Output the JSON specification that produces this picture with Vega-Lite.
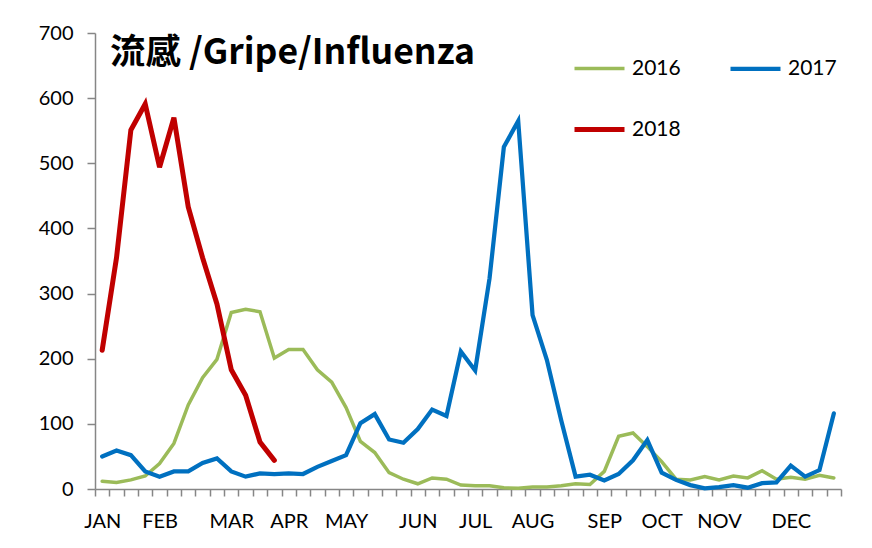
{
  "$schema": "https://vega.github.io/schema/vega-lite/v6.json",
  "width": 746,
  "height": 456,
  "autosize": {"type": "none"},
  "padding": {"left": 95, "top": 33, "right": 31, "bottom": 59},
  "background": "white",
  "config": {"view": {"stroke": null}, "font": "Lato"},
  "title": {
    "text": "流感 /Gripe/Influenza",
    "anchor": "start",
    "frame": "group",
    "orient": "top",
    "offset": 0,
    "dx": 15,
    "dy": 76,
    "baseline": "alphabetic",
    "font": "Noto Sans CJK TC",
    "fontSize": 35.5,
    "fontWeight": "bold",
    "color": "black"
  },
  "data": {"values": [
    {"week":1,"year":"2016","value":12},{"week":2,"year":"2016","value":10},{"week":3,"year":"2016","value":14},{"week":4,"year":"2016","value":20},{"week":5,"year":"2016","value":39},{"week":6,"year":"2016","value":70},{"week":7,"year":"2016","value":129},{"week":8,"year":"2016","value":171},{"week":9,"year":"2016","value":199},{"week":10,"year":"2016","value":271},
    {"week":11,"year":"2016","value":276},{"week":12,"year":"2016","value":272},{"week":13,"year":"2016","value":201},{"week":14,"year":"2016","value":214},{"week":15,"year":"2016","value":214},{"week":16,"year":"2016","value":183},{"week":17,"year":"2016","value":164},{"week":18,"year":"2016","value":125},{"week":19,"year":"2016","value":73},{"week":20,"year":"2016","value":56},
    {"week":21,"year":"2016","value":25},{"week":22,"year":"2016","value":15},{"week":23,"year":"2016","value":8},{"week":24,"year":"2016","value":17},{"week":25,"year":"2016","value":15},{"week":26,"year":"2016","value":6},{"week":27,"year":"2016","value":5},{"week":28,"year":"2016","value":5},{"week":29,"year":"2016","value":2},{"week":30,"year":"2016","value":1},
    {"week":31,"year":"2016","value":3},{"week":32,"year":"2016","value":3},{"week":33,"year":"2016","value":5},{"week":34,"year":"2016","value":8},{"week":35,"year":"2016","value":7},{"week":36,"year":"2016","value":27},{"week":37,"year":"2016","value":81},{"week":38,"year":"2016","value":86},{"week":39,"year":"2016","value":65},{"week":40,"year":"2016","value":42},
    {"week":41,"year":"2016","value":15},{"week":42,"year":"2016","value":14},{"week":43,"year":"2016","value":19},{"week":44,"year":"2016","value":14},{"week":45,"year":"2016","value":20},{"week":46,"year":"2016","value":17},{"week":47,"year":"2016","value":28},{"week":48,"year":"2016","value":15},{"week":49,"year":"2016","value":18},{"week":50,"year":"2016","value":15},
    {"week":51,"year":"2016","value":21},{"week":52,"year":"2016","value":17},
    {"week":1,"year":"2017","value":50},{"week":2,"year":"2017","value":59},{"week":3,"year":"2017","value":52},{"week":4,"year":"2017","value":27},{"week":5,"year":"2017","value":19},{"week":6,"year":"2017","value":27},{"week":7,"year":"2017","value":27},{"week":8,"year":"2017","value":40},{"week":9,"year":"2017","value":47},{"week":10,"year":"2017","value":27},
    {"week":11,"year":"2017","value":19},{"week":12,"year":"2017","value":24},{"week":13,"year":"2017","value":23},{"week":14,"year":"2017","value":24},{"week":15,"year":"2017","value":23},{"week":16,"year":"2017","value":34},{"week":17,"year":"2017","value":43},{"week":18,"year":"2017","value":52},{"week":19,"year":"2017","value":101},{"week":20,"year":"2017","value":115},
    {"week":21,"year":"2017","value":76},{"week":22,"year":"2017","value":71},{"week":23,"year":"2017","value":92},{"week":24,"year":"2017","value":122},{"week":25,"year":"2017","value":112},{"week":26,"year":"2017","value":211},{"week":27,"year":"2017","value":182},{"week":28,"year":"2017","value":323},{"week":29,"year":"2017","value":525},{"week":30,"year":"2017","value":565},
    {"week":31,"year":"2017","value":267},{"week":32,"year":"2017","value":198},{"week":33,"year":"2017","value":105},{"week":34,"year":"2017","value":19},{"week":35,"year":"2017","value":22},{"week":36,"year":"2017","value":13},{"week":37,"year":"2017","value":23},{"week":38,"year":"2017","value":44},{"week":39,"year":"2017","value":75},{"week":40,"year":"2017","value":25},
    {"week":41,"year":"2017","value":14},{"week":42,"year":"2017","value":6},{"week":43,"year":"2017","value":1},{"week":44,"year":"2017","value":3},{"week":45,"year":"2017","value":6},{"week":46,"year":"2017","value":2},{"week":47,"year":"2017","value":9},{"week":48,"year":"2017","value":10},{"week":49,"year":"2017","value":36},{"week":50,"year":"2017","value":19},
    {"week":51,"year":"2017","value":29},{"week":52,"year":"2017","value":116},
    {"week":1,"year":"2018","value":213},{"week":2,"year":"2018","value":355},{"week":3,"year":"2018","value":551},{"week":4,"year":"2018","value":591},{"week":5,"year":"2018","value":494},{"week":6,"year":"2018","value":570},{"week":7,"year":"2018","value":433},{"week":8,"year":"2018","value":355},{"week":9,"year":"2018","value":284},{"week":10,"year":"2018","value":183},
    {"week":11,"year":"2018","value":144},{"week":12,"year":"2018","value":72},{"week":13,"year":"2018","value":44}
  ]},
  "mark": {"type": "line", "strokeCap": "round", "strokeJoin": "miter"},
  "encoding": {
    "x": {
      "field": "week",
      "type": "ordinal",
      "scale": {"type": "band", "paddingInner": 0, "paddingOuter": 0},
      "axis": {
        "title": null,
        "tickBand": "extent",
        "tickSize": 7,
        "labelPadding": 15,
        "labelAngle": 0,
        "labelOverlap": false,
        "labelExpr": "datum.value==1?'JAN':datum.value==5?'FEB':datum.value==10?'MAR':datum.value==14?'APR':datum.value==18?'MAY':datum.value==23?'JUN':datum.value==27?'JUL':datum.value==31?'AUG':datum.value==36?'SEP':datum.value==40?'OCT':datum.value==44?'NOV':datum.value==49?'DEC':''",
        "labelFont": "Lato",
        "labelFontSize": 20,
        "labelColor": "black",
        "domainColor": "#868686",
        "domainWidth": 1.5,
        "tickColor": "#868686",
        "tickWidth": 1.5
      }
    },
    "y": {
      "field": "value",
      "type": "quantitative",
      "scale": {"domain": [0, 700], "nice": false},
      "axis": {
        "title": null,
        "values": [0, 100, 200, 300, 400, 500, 600, 700],
        "grid": false,
        "tickSize": 8,
        "labelPadding": 14,
        "labelFont": "Lato",
        "labelFontSize": 20,
        "labelColor": "black",
        "domainColor": "#868686",
        "domainWidth": 1.5,
        "tickColor": "#868686",
        "tickWidth": 1.5
      }
    },
    "color": {
      "field": "year",
      "type": "nominal",
      "scale": {"domain": ["2016", "2017", "2018"], "range": ["#9BBB59", "#0070C0", "#C00000"]},
      "legend": {
        "orient": "none",
        "direction": "horizontal",
        "legendX": 477,
        "legendY": 8,
        "columns": 2,
        "columnPadding": 41,
        "rowPadding": 23,
        "symbolType": "stroke",
        "symbolSize": 2500,
        "labelFont": "Lato",
        "labelFontSize": 21,
        "labelColor": "black",
        "labelOffset": 5,
        "title": null
      }
    },
    "strokeWidth": {
      "field": "year",
      "type": "nominal",
      "scale": {"domain": ["2016", "2017", "2018"], "range": [3.5, 5, 5.5]},
      "legend": {
        "orient": "none",
        "direction": "horizontal",
        "legendX": 477,
        "legendY": 8,
        "columns": 2,
        "columnPadding": 41,
        "rowPadding": 23,
        "symbolType": "stroke",
        "symbolSize": 2500,
        "labelFont": "Lato",
        "labelFontSize": 21,
        "labelColor": "black",
        "labelOffset": 5,
        "title": null
      }
    }
  }
}
